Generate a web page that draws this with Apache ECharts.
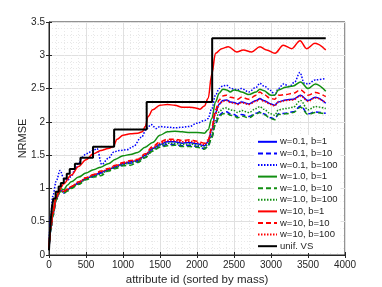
<!DOCTYPE html>
<html><head><meta charset="utf-8">
<script src="https://cdn.jsdelivr.net/npm/echarts@6/dist/echarts.min.js"></script>
<style>html,body{margin:0;padding:0;background:#fff}#c{width:382px;height:287px}</style>
</head><body><div id="c"></div>
<script>
// common x positions (attribute id) for most series
const xs = [0,25,50,100,150,200,250,300,400,500,600,700,800,900,1000,1100,1200,1300,1400,1500,1600,1700,1800,1900,2000,2100,2150,2200,2250,2300,2350,2400,2450,2500,2550,2600,2700,2800,2850,2900,3000,3050,3100,3200,3300,3400,3500,3600,3740];

const w01b1 = [0.08,0.40,0.60,0.85,0.97,0.95,0.98,1.02,1.08,1.15,1.19,1.24,1.28,1.33,1.37,1.40,1.42,1.50,1.60,1.66,1.70,1.70,1.68,1.69,1.67,1.64,1.70,1.88,2.14,2.27,2.32,2.33,2.30,2.29,2.27,2.30,2.27,2.32,2.35,2.32,2.27,2.25,2.30,2.33,2.34,2.40,2.32,2.37,2.28];
const w01b10 = [0.08,0.38,0.58,0.84,0.96,0.93,0.97,1.01,1.07,1.14,1.18,1.23,1.27,1.31,1.35,1.38,1.40,1.47,1.57,1.63,1.66,1.66,1.64,1.65,1.63,1.60,1.64,1.78,1.98,2.10,2.14,2.15,2.12,2.11,2.08,2.11,2.08,2.13,2.15,2.12,2.06,2.04,2.12,2.13,2.15,2.24,2.12,2.15,2.13];
const w10b1 = [0.10,0.45,0.65,0.90,1.00,0.98,1.05,1.10,1.17,1.23,1.28,1.32,1.37,1.44,1.49,1.51,1.54,1.62,1.69,1.80,1.85,1.86,1.85,1.84,1.84,1.83,1.88,2.05,2.30,2.43,2.49,2.48,2.45,2.48,2.47,2.45,2.41,2.45,2.49,2.47,2.40,2.40,2.48,2.52,2.54,2.60,2.50,2.57,2.46];
const w10b10 = [0.08,0.38,0.58,0.83,0.95,0.93,0.96,1.00,1.06,1.13,1.17,1.19,1.26,1.30,1.34,1.35,1.39,1.46,1.56,1.62,1.64,1.65,1.63,1.63,1.62,1.59,1.63,1.76,1.96,2.08,2.12,2.13,2.10,2.09,2.06,2.09,2.06,2.12,2.14,2.11,2.05,2.03,2.11,2.12,2.14,2.22,2.11,2.14,2.12];
const w10b100 = [0.08,0.39,0.60,0.85,0.97,0.94,0.97,1.01,1.07,1.14,1.19,1.21,1.28,1.32,1.36,1.38,1.41,1.48,1.58,1.65,1.68,1.68,1.66,1.67,1.65,1.62,1.66,1.80,2.02,2.15,2.20,2.21,2.18,2.17,2.14,2.17,2.14,2.20,2.23,2.19,2.12,2.10,2.18,2.20,2.22,2.32,2.18,2.23,2.20];
const w100b10 = [0.10,0.42,0.62,0.86,0.98,0.96,0.99,1.03,1.10,1.16,1.21,1.26,1.30,1.35,1.39,1.42,1.44,1.52,1.63,1.70,1.74,1.74,1.72,1.73,1.71,1.68,1.73,1.92,2.18,2.33,2.39,2.40,2.37,2.36,2.34,2.37,2.34,2.40,2.45,2.41,2.35,2.34,2.40,2.41,2.43,2.48,2.40,2.44,2.38];
const w100b100 = [0.09,0.41,0.61,0.86,0.98,0.95,0.98,1.03,1.09,1.16,1.20,1.25,1.29,1.34,1.38,1.41,1.43,1.51,1.61,1.68,1.72,1.72,1.70,1.71,1.69,1.66,1.71,1.88,2.12,2.26,2.31,2.32,2.29,2.28,2.26,2.29,2.26,2.31,2.34,2.31,2.26,2.24,2.30,2.32,2.33,2.39,2.31,2.36,2.29];

// series with their own x positions
const w01b100X = [0,25,50,100,150,200,250,300,350,400,450,500,600,650,712,800,880,950,1050,1140,1250,1320,1380,1450,1500,1600,1700,1800,1900,2000,2100,2150,2200,2250,2300,2350,2400,2450,2500,2550,2600,2700,2800,2850,2900,3000,3050,3100,3170,3250,3320,3390,3450,3500,3600,3740];
const w01b100 = [0.15,0.60,0.88,1.12,1.27,1.15,1.12,1.18,1.28,1.38,1.47,1.52,1.57,1.60,1.36,1.45,1.55,1.57,1.58,1.63,1.77,1.90,1.96,1.90,1.93,1.92,1.91,1.92,1.93,1.98,2.02,2.05,2.20,2.40,2.50,2.54,2.55,2.51,2.49,2.48,2.50,2.45,2.52,2.58,2.54,2.47,2.40,2.50,2.57,2.53,2.60,2.74,2.58,2.57,2.63,2.65];

const w100b1X = [0,25,50,100,150,200,300,400,500,600,700,800,870,920,1000,1100,1200,1260,1300,1340,1400,1500,1600,1700,1800,1900,1980,2040,2100,2150,2200,2250,2333,2423,2536,2626,2739,2851,2941,3054,3166,3280,3392,3482,3594,3740];
const w100b1 = [0.10,0.45,0.65,0.88,1.00,1.07,1.20,1.33,1.43,1.52,1.57,1.60,1.63,1.74,1.80,1.82,1.83,1.85,1.93,2.08,2.18,2.25,2.26,2.25,2.22,2.22,2.21,2.19,2.24,2.35,2.72,3.03,3.10,3.13,3.05,3.08,3.05,3.13,3.08,3.03,3.15,3.10,3.22,3.10,3.18,3.08];

// uniform VS: step starts (x where a level begins) and levels
const unifX = [0,10,25,40,60,90,130,160,200,240,280,350,425,595,880,1320,2205,3740];
const unifV = [0.07,0.30,0.55,0.72,0.85,0.95,1.03,1.08,1.15,1.22,1.29,1.37,1.46,1.627,1.885,2.30,3.255,3.255];

const names = ['w=0.1, b=1','w=0.1, b=10','w=0.1, b=100','w=1.0, b=1','w=1.0, b=10','w=1.0, b=100','w=10, b=1','w=10, b=10','w=10, b=100','unif. VS'];
const xTicks = [0,500,1000,1500,2000,2500,3000,3500,4000];
const yTicks = [0,0.5,1,1.5,2,2.5,3,3.5];

const BLUE='#0000ff', GREEN='#128f12', RED='#ff0000', BLACK='#000000';
const DASH=[5,3], DOT=[1.5,1.5];
const zip=(a,b)=>a.map((v,i)=>[v,b[i]]);

function ln(name,x,y,color,type,w){
  return {name,type:'line',data:zip(x,y),smooth:0.35,smoothMonotone:'x',symbol:'none',
    lineStyle:{color,width:w||1.5,type},itemStyle:{color},emphasis:{disabled:true}};
}
const series=[
  ln(names[0],xs,w01b1,BLUE,'solid'),
  ln(names[1],xs,w01b10,BLUE,DASH),
  ln(names[2],w01b100X,w01b100,BLUE,DOT),
  ln(names[3],xs,w10b1,GREEN,'solid'),
  ln(names[4],xs,w10b10,GREEN,DASH),
  ln(names[5],xs,w10b100,GREEN,DOT),
  ln(names[6],w100b1X,w100b1,RED,'solid'),
  ln(names[7],xs,w100b10,RED,DASH),
  ln(names[8],xs,w100b100,RED,DOT),
  {name:names[9],type:'line',data:zip(unifX,unifV),step:'end',symbol:'none',
   lineStyle:{color:BLACK,width:2},itemStyle:{color:BLACK},emphasis:{disabled:true}}
];

const FONT='Liberation Sans, Arial, sans-serif';
const TXT='#262626';
const chart=echarts.init(document.getElementById('c'),null,{renderer:'canvas'});
chart.setOption({
  animation:false,
  backgroundColor:'#fff',
  grid:{left:49,top:22,right:37,bottom:32,containLabel:false,outerBoundsMode:'none',
    show:true,borderColor:'#262626',borderWidth:1,backgroundColor:'transparent'},
  xAxis:[{type:'value',min:xTicks[0],max:xTicks[xTicks.length-1],interval:500,
    name:'attribute id (sorted by mass)',nameLocation:'middle',nameGap:19,nameMoveOverlap:false,
    nameTextStyle:{fontFamily:FONT,fontSize:11.5,color:TXT},
    axisLine:{show:true,onZero:false,lineStyle:{color:'#262626'}},
    axisTick:{show:true,inside:true,length:3,lineStyle:{color:'#262626'}},
    axisLabel:{fontFamily:FONT,fontSize:10,color:TXT,margin:5,formatter:v=>String(v)},
    splitLine:{show:true,lineStyle:{color:'#e0e0e0',width:1}},
    minorTick:{show:false,splitNumber:5},
    minorSplitLine:{show:true,lineStyle:{color:'#e8e8e8',width:1,type:[1,2]}}},
   {type:'value',position:'top',min:0,max:4000,interval:500,
    axisLine:{show:false},axisTick:{show:true,inside:true,length:3,lineStyle:{color:'#262626'}},
    axisLabel:{show:false},splitLine:{show:false}}],
  yAxis:[{type:'value',min:yTicks[0],max:yTicks[yTicks.length-1],interval:0.5,
    name:'NRMSE',nameLocation:'middle',nameGap:21,nameMoveOverlap:false,
    nameTextStyle:{fontFamily:FONT,fontSize:11,color:TXT},
    axisLine:{show:true,onZero:false,lineStyle:{color:'#262626'}},
    axisTick:{show:true,inside:true,length:3,lineStyle:{color:'#262626'}},
    axisLabel:{fontFamily:FONT,fontSize:10,color:TXT,margin:4},
    splitLine:{show:true,lineStyle:{color:'#e0e0e0',width:1}},
    minorTick:{show:false,splitNumber:5},
    minorSplitLine:{show:true,lineStyle:{color:'#e8e8e8',width:1,type:[1,2]}}},
   {type:'value',position:'right',min:0,max:3.5,interval:0.5,
    axisLine:{show:false},axisTick:{show:true,inside:true,length:3,lineStyle:{color:'#262626'}},
    axisLabel:{show:false},splitLine:{show:false}}],
  legend:{orient:'vertical',left:254,top:135,itemWidth:19,itemHeight:8,itemGap:0,
    padding:[1,3,1,3],backgroundColor:'#fff',selectedMode:false,z:10,
    itemStyle:{opacity:0,color:'transparent',borderWidth:0},
    textStyle:{fontFamily:FONT,fontSize:9.5,color:TXT,lineHeight:11.6,padding:[0,0,0,-2]},
    data:names},
  series
});
</script></body></html>
